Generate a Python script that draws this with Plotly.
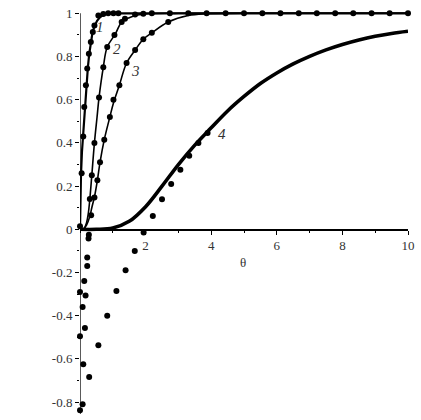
import plotly.graph_objects as go

# ---- exact curves (lines) ----
c1_x = [0, 0.01, 0.03, 0.06, 0.10, 0.14, 0.20, 0.24, 0.28, 0.32, 0.38, 0.44, 0.52, 0.60, 0.70, 0.85, 1.0, 10]
c1_y = [0, 0.12, 0.25, 0.36, 0.45, 0.56, 0.67, 0.75, 0.81, 0.86, 0.91, 0.94, 0.965, 0.98, 0.993, 0.999, 1, 1]

c2_x = [0, 0.10, 0.15, 0.20, 0.25, 0.30, 0.36, 0.44, 0.52, 0.58, 0.71, 0.83, 1.08, 1.27, 1.50, 1.80, 2.20, 3.0, 10]
c2_y = [0, 0.0, 0.01, 0.03, 0.07, 0.14, 0.25, 0.40, 0.52, 0.61, 0.75, 0.844, 0.905, 0.96, 0.98, 0.993, 0.999, 1, 1]

c3_x = [0, 0.10, 0.20, 0.30, 0.36, 0.44, 0.53, 0.61, 0.74, 0.91, 1.02, 1.20, 1.42, 1.68, 1.93, 2.19, 2.69, 3.30, 3.86, 5.0, 10]
c3_y = [0, 0.0, 0.02, 0.06, 0.10, 0.15, 0.227, 0.31, 0.415, 0.52, 0.585, 0.667, 0.77, 0.83, 0.88, 0.91, 0.96, 0.99, 0.998, 1, 1]

c4_x = [0, 0.5, 1.0, 1.5, 2.0, 2.5, 3.0, 3.5, 4.0, 4.5, 5.0, 5.5, 6.0, 6.5, 7.0, 7.5, 8.0, 8.5, 9.0, 9.5, 10]
c4_y = [0, 0.0, 0.006, 0.037, 0.105, 0.20, 0.30, 0.39, 0.47, 0.548, 0.615, 0.675, 0.724, 0.766, 0.801, 0.831, 0.856, 0.877, 0.894, 0.907, 0.917]

# ---- approximate solutions (dots) ----
d1_x = [0.0, 0.0, 0.0, 0.05, 0.08, 0.10, 0.13, 0.13, 0.18, 0.22, 0.27, 0.33, 0.39, 0.44, 0.56, 0.71, 0.86, 1.02, 1.17]
d1_y = [0.014, -0.29, -0.495, 0.26, -0.36, 0.43, 0.566, -0.239, 0.667, 0.744, 0.813, 0.867, 0.913, 0.944, 0.99, 0.997, 1, 1, 1]

d2_x = [0.10, 0.17, 0.22, 0.26, 0.30, 0.36, 0.44, 0.58, 0.71, 0.83, 1.05, 1.27, 1.37, 1.68, 1.93, 2.19]
d2_y = [-0.625, -0.306, -0.131, -0.043, 0.14, 0.25, 0.40, 0.61, 0.75, 0.844, 0.90, 0.96, 0.975, 0.995, 0.998, 1]

d3_x = [0.08, 0.15, 0.22, 0.27, 0.34, 0.44, 0.53, 0.61, 0.74, 0.91, 1.02, 1.20, 1.42, 1.68, 1.93, 2.19, 2.69,
        2.74, 3.30, 3.86, 4.44, 5.00, 5.56, 6.11, 6.67, 7.22, 7.78, 8.33, 8.89, 9.44, 10.0]
d3_y = [-0.81, -0.457, -0.17, -0.025, 0.065, 0.147, 0.227, 0.31, 0.415, 0.52, 0.60, 0.667, 0.77, 0.83, 0.88, 0.91, 0.96,
        1, 1, 1, 1, 1, 1, 1, 1, 1, 1, 1, 1, 1, 1]

d4_x = [0.0, 0.28, 0.56, 0.83, 1.11, 1.39, 1.67, 1.94, 2.22, 2.50, 2.78, 3.06, 3.33, 3.61, 3.89]
d4_y = [-0.838, -0.684, -0.537, -0.40, -0.286, -0.19, -0.10, -0.015, 0.062, 0.139, 0.21, 0.276, 0.341, 0.40, 0.446]

y_ticks = [1, 0.8, 0.6, 0.4, 0.2, 0, -0.2, -0.4, -0.6, -0.8]
y_labels = ["1", "0.8", "0.6", "0.4", "0.2", "0", "-0.2", "-0.4", "-0.6", "-0.8"]
x_ticks = [2, 4, 6, 8, 10]
x_labels = ["2", "4", "6", "8", "10"]

curve_labels = ["1", "2", "3", "4"]
label_x = [0.62, 1.12, 1.70, 4.32]
label_y = [0.935, 0.835, 0.735, 0.44]

fig = go.Figure()
line_specs = [(c1_x, c1_y, 2.2, "linear"), (c2_x, c2_y, 1.6, "spline"),
              (c3_x, c3_y, 1.6, "spline"), (c4_x, c4_y, 3.6, "spline")]
for xs, ys, w, shp in line_specs:
    fig.add_trace(go.Scatter(x=xs, y=ys, mode="lines", line=dict(color="black", width=w, shape=shp),
                             cliponaxis=False, hoverinfo="skip"))
for xs, ys in [(d1_x, d1_y), (d2_x, d2_y), (d3_x, d3_y), (d4_x, d4_y)]:
    fig.add_trace(go.Scatter(x=xs, y=ys, mode="markers", marker=dict(color="black", size=6),
                             cliponaxis=False, hoverinfo="skip"))

y_lo, y_hi = -0.855, 1.02
tick_font = dict(family="Liberation Serif, Times New Roman, serif", size=13, color="#333")

fig.update_layout(
    width=421, height=420,
    margin=dict(l=80, r=13, t=9, b=6),
    paper_bgcolor="white", plot_bgcolor="white",
    showlegend=False,
    xaxis=dict(range=[0, 10], anchor="free", position=(0 - y_lo) / (y_hi - y_lo), automargin=False,
               showline=True, linecolor="black", linewidth=1.3, ticklabeloverflow="allow",
               tickvals=x_ticks, ticktext=x_labels, ticks="outside", ticklen=4, tickcolor="black",
               minor=dict(dtick=1, tick0=0, ticks="outside", ticklen=2, tickcolor="black"),
               showgrid=False, zeroline=False, tickfont=tick_font),
    yaxis=dict(range=[y_lo, y_hi], automargin=False, showline=False, ticklabeloverflow="allow",
               tickvals=y_ticks, ticktext=y_labels, ticks="outside", ticklen=4, tickcolor="black",
               minor=dict(dtick=0.1, tick0=0, ticks="outside", ticklen=2, tickcolor="black"),
               showgrid=False, zeroline=False, tickfont=tick_font),
)

# vertical axis line from the bottom of the range up to 1
fig.add_shape(type="line", xref="x", yref="y", x0=0, x1=0, y0=y_lo, y1=max(y_ticks),
              line=dict(color="black", width=1.3), layer="below")

fig.add_annotation(x=-1.22, y=0.60, xref="x", yref="y", text="Q(θ)", showarrow=False,
                   font=dict(family="Liberation Serif, serif", size=13, color="#333"))
fig.add_annotation(x=4.97, y=-0.153, xref="x", yref="y", text="θ", showarrow=False,
                   font=dict(family="Liberation Serif, serif", size=13, color="#333"))
for t, lx, ly in zip(curve_labels, label_x, label_y):
    fig.add_annotation(x=lx, y=ly, xref="x", yref="y", text="<i>" + t + "</i>", showarrow=False,
                       font=dict(family="Liberation Serif, serif", size=15, color="#333"))

# remove the default page margin so the figure sits at the window's top-left corner
fig.write_html("out.html", config={"displayModeBar": False, "staticPlot": True},
               post_script="document.body.style.margin='0';document.body.style.overflow='hidden';")
